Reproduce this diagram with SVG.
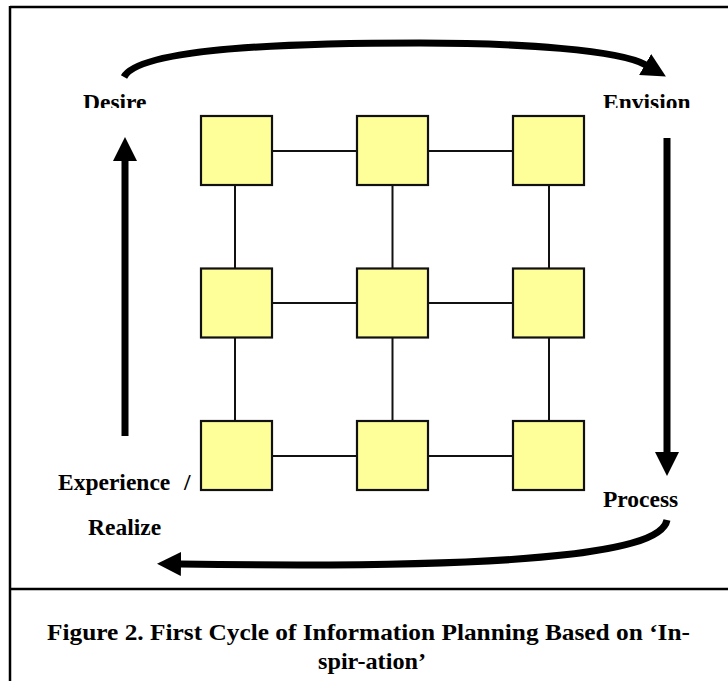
<svg xmlns="http://www.w3.org/2000/svg" width="728" height="681" viewBox="0 0 728 681">
<style>
.frame{stroke:#000;stroke-width:2.5;fill:none}
.node{fill:#FFFF99;stroke:#111;stroke-width:2.2}
.link{stroke:#111;stroke-width:2}
.flow{stroke:#000;stroke-width:7;fill:none;stroke-linecap:butt}
.lbl{font-family:"Liberation Serif","Times New Roman",serif;font-weight:bold;font-size:23.5px;fill:#000}
.cap{font-family:"Liberation Serif","Times New Roman",serif;font-weight:bold;font-size:24px;fill:#000}
</style>
<defs>
<marker id="ah" markerUnits="userSpaceOnUse" markerWidth="24" markerHeight="24" viewBox="0 0 24 24" refX="1" refY="12" orient="auto">
<path d="M0,0 L24,12 L0,24 z" fill="#000"/>
</marker>
<clipPath id="topclip"><rect x="0" y="0" width="728" height="108"/></clipPath>
</defs>
<rect width="728" height="681" fill="#fff"/>
<g id="frame">
<line class="frame" x1="10" y1="7" x2="728" y2="7"/>
<line class="frame" x1="10" y1="6" x2="10" y2="681"/>
<line class="frame" x1="10" y1="589" x2="728" y2="589"/>
</g>
<g id="connectors">
<line class="link" x1="272" y1="151" x2="357" y2="151"/>
<line class="link" x1="428" y1="151" x2="513" y2="151"/>
<line class="link" x1="272" y1="303" x2="357" y2="303"/>
<line class="link" x1="428" y1="303" x2="513" y2="303"/>
<line class="link" x1="272" y1="456" x2="357" y2="456"/>
<line class="link" x1="428" y1="456" x2="513" y2="456"/>
<line class="link" x1="235" y1="185" x2="235" y2="268"/>
<line class="link" x1="235" y1="338" x2="235" y2="421"/>
<line class="link" x1="392.5" y1="185" x2="392.5" y2="268"/>
<line class="link" x1="392.5" y1="338" x2="392.5" y2="421"/>
<line class="link" x1="549" y1="185" x2="549" y2="268"/>
<line class="link" x1="549" y1="338" x2="549" y2="421"/>
<path id="arrow-desire-envision" class="flow" d="M124,77 C140,47 300,43 420,43 C520,43 620,50 646,65" marker-end="url(#ah)"/>
<path id="arrow-envision-process" class="flow" d="M667,138 L667,453" marker-end="url(#ah)"/>
<path id="arrow-process-experience" class="flow" d="M667,520 C660,556 500,569 180,564" marker-end="url(#ah)"/>
<path id="arrow-experience-desire" class="flow" d="M125,436 L125,160" marker-end="url(#ah)"/>
</g>
<g id="n11"><rect class="node" x="201" y="116" width="71" height="69"/></g>
<g id="n12"><rect class="node" x="357" y="116" width="71" height="69"/></g>
<g id="n13"><rect class="node" x="513" y="116" width="71" height="69"/></g>
<g id="n21"><rect class="node" x="201" y="268.5" width="71" height="69"/></g>
<g id="n22"><rect class="node" x="357" y="268.5" width="71" height="69"/></g>
<g id="n23"><rect class="node" x="513" y="268.5" width="71" height="69"/></g>
<g id="n31"><rect class="node" x="201" y="421" width="71" height="69"/></g>
<g id="n32"><rect class="node" x="357" y="421" width="71" height="69"/></g>
<g id="n33"><rect class="node" x="513" y="421" width="71" height="69"/></g>
<g id="label-desire" clip-path="url(#topclip)"><text class="lbl" x="83" y="110">Desire</text></g>
<g id="label-envision" clip-path="url(#topclip)"><text class="lbl" x="603" y="110">Envision</text></g>
<g id="label-process"><text class="lbl" x="603" y="507">Process</text></g>
<g id="label-experience"><text class="lbl" x="58" y="490">Experience <tspan x="184">/</tspan></text>
<text class="lbl" x="88" y="535">Realize</text></g>
<g id="caption">
<text class="cap" x="368.5" y="640" text-anchor="middle" textLength="643" lengthAdjust="spacingAndGlyphs">Figure 2. First Cycle of Information Planning Based on ‘In-</text>
<text class="cap" x="372" y="669" text-anchor="middle" textLength="108" lengthAdjust="spacingAndGlyphs">spir-ation’</text>
</g>
</svg>
